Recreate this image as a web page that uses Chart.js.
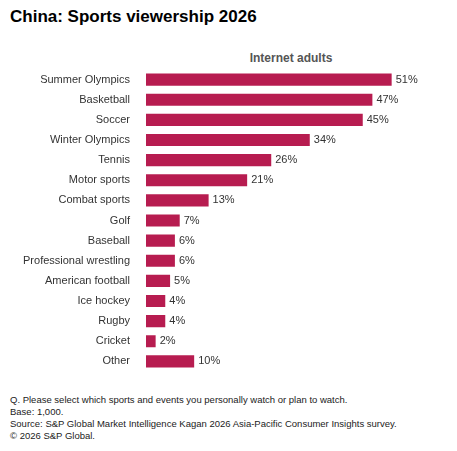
<!DOCTYPE html>
<html>
<head>
<meta charset="utf-8">
<script src="https://cdn.jsdelivr.net/npm/chart.js@4"></script>
<style>
  body { margin: 0; width: 457px; height: 451px; background: #fff; font-family: "Liberation Sans", Arial, sans-serif; color: #222; position: relative; overflow: hidden; }
  .title { position: absolute; left: 10px; top: 7px; font-size: 17px; font-weight: bold; color: #000; }
  .series { position: absolute; left: 146px; width: 290px; top: 51px; text-align: center; font-size: 12px; font-weight: bold; color: #555; }
  .chart { position: absolute; left: 0; top: 55px; width: 457px; height: 331px; }
  .notes { position: absolute; left: 10px; top: 394px; font-size: 9.5px; line-height: 12px; color: #222; }
</style>
</head>
<body>
<div class="title">China: Sports viewership 2026</div>
<div class="series">Internet adults</div>
<div class="chart"><canvas id="c"></canvas></div>
<div class="notes">Q. Please select which sports and events you personally watch or plan to watch.<br>Base: 1,000.<br>Source: S&amp;P Global Market Intelligence Kagan 2026 Asia-Pacific Consumer Insights survey.<br>© 2026 S&amp;P Global.</div>
<script>
const sports = ['Summer Olympics', 'Basketball', 'Soccer', 'Winter Olympics', 'Tennis', 'Motor sports',
  'Combat sports', 'Golf', 'Baseball', 'Professional wrestling', 'American football', 'Ice hockey',
  'Rugby', 'Cricket', 'Other'];
const shares = [51, 47, 45, 34, 26, 21, 13, 7, 6, 6, 5, 4, 4, 2, 10];

// percent labels after each bar
const valueLabels = {
  id: 'valueLabels',
  afterDatasetsDraw(chart) {
    const ctx = chart.ctx;
    ctx.save();
    ctx.font = '11px "Liberation Sans", Arial, sans-serif';
    ctx.fillStyle = '#333';
    ctx.textBaseline = 'middle';
    chart.getDatasetMeta(0).data.forEach((bar, i) => {
      ctx.fillText(shares[i] + '%', bar.x + 4, bar.y);
    });
    ctx.restore();
  }
};

new Chart(document.getElementById('c'), {
  type: 'bar',
  data: {
    labels: sports,
    datasets: [{
      data: shares,
      backgroundColor: '#b71c50',
      barPercentage: 0.6,
      categoryPercentage: 1
    }]
  },
  options: {
    indexAxis: 'y',
    responsive: true,
    maintainAspectRatio: false,
    animation: false,
    layout: { padding: { top: 0, bottom: 0, left: 0, right: 22 } },
    plugins: { legend: { display: false }, tooltip: { enabled: false } },
    scales: {
      x: { display: false, min: 0, max: 60 },
      y: {
        grid: { display: false },
        border: { display: false },
        afterFit(scale) { scale.width = 146; },
        ticks: { color: '#333', padding: 8, font: { size: 11, family: '"Liberation Sans", Arial, sans-serif' } }
      }
    }
  },
  plugins: [valueLabels]
});
</script>
</body>
</html>
